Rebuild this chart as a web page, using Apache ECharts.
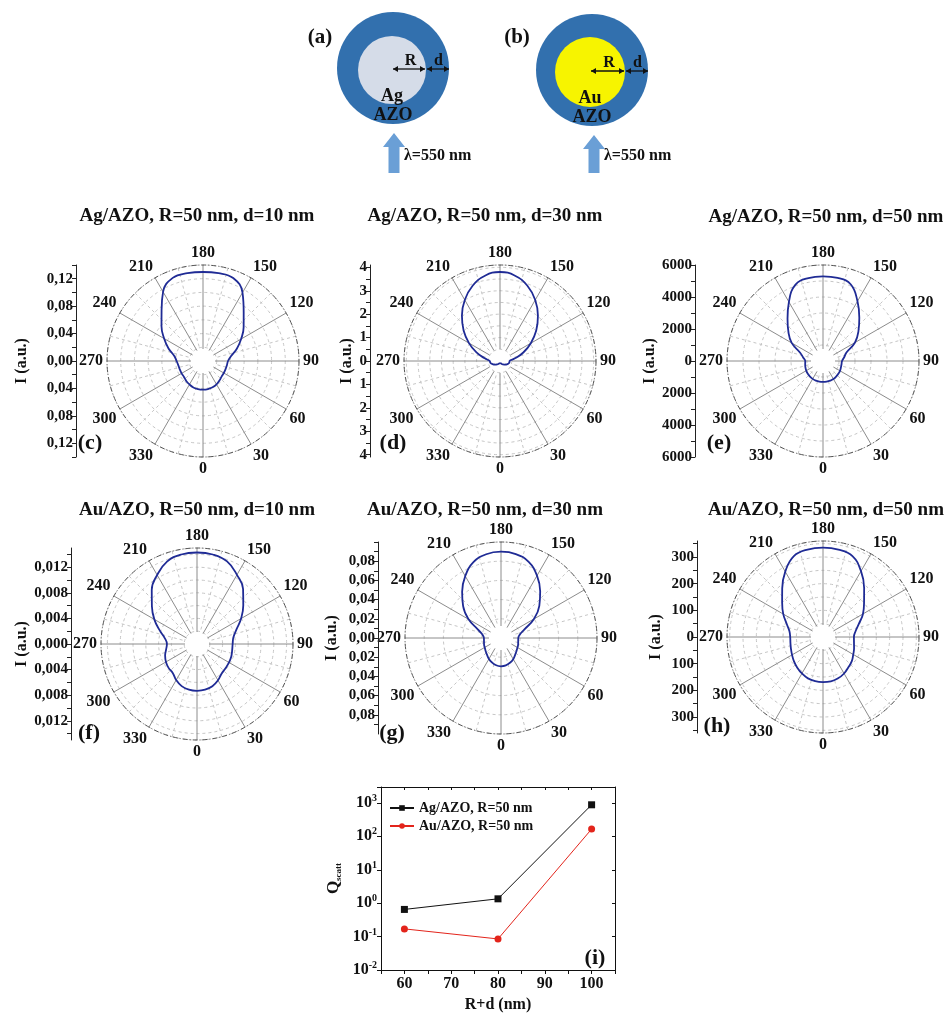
<!DOCTYPE html>
<html><head><meta charset="utf-8">
<script src="https://cdn.jsdelivr.net/npm/echarts@6/dist/echarts.min.js"></script>
<style>html,body{margin:0;padding:0;background:#fff}#chart{width:949px;height:1014px}</style>
</head><body><div id="chart"></div>
<script>
// ---------- DATA ----------
const angles = [0,10,20,30,40,50,60,70,80,90,100,110,120,130,140,150,160,170,180,190,200,210,220,230,240,250,260,270,280,290,300,310,320,330,340,350,360];
const agAzoD10 = [0.0418,0.0416,0.0408,0.0394,0.0372,0.0354,0.0350,0.0350,0.0354,0.0365,0.0416,0.0525,0.0642,0.0774,0.0923,0.1152,0.1287,0.1300,0.1298,
                  0.1300,0.1290,0.1165,0.0940,0.0790,0.0655,0.0535,0.0425,0.0385,0.0365,0.0360,0.0360,0.0362,0.0380,0.0395,0.0410,0.0416,0.0418];
const agAzoD30 = [0.085,0.085,0.107,0.15,0.19,0.235,0.30,0.36,0.405,0.41,0.65,1.06,1.52,2.02,2.52,3.01,3.42,3.70,3.80,
                  3.70,3.42,3.01,2.53,2.03,1.53,1.07,0.66,0.44,0.42,0.36,0.30,0.24,0.19,0.15,0.11,0.09,0.085];
const agAzoD50 = [1310,1310,1310,1305,1275,1250,1225,1190,1175,1190,1345,1560,2310,2890,3530,4310,5090,5270,5290,
                  5260,5060,4260,3450,2820,2260,1520,1260,1110,1130,1170,1210,1240,1265,1290,1305,1310,1310];
const auAzoD10 = [0.00733,0.00725,0.00702,0.00655,0.0060,0.00585,0.00577,0.0057,0.00558,0.00557,0.00577,0.00655,0.00796,0.00944,0.0112,0.01248,0.01373,0.0142,0.0143,
                  0.0142,0.0137,0.01245,0.0110,0.0092,0.0077,0.0062,0.0051,0.0047,0.0049,0.0053,0.0056,0.0058,0.0059,0.0065,0.0070,0.00725,0.00733];
const auAzoD30 = [0.0295,0.0289,0.0274,0.0255,0.0229,0.0211,0.0198,0.0190,0.0182,0.0180,0.0198,0.0260,0.0396,0.0521,0.0635,0.0750,0.0843,0.0888,0.0899,
                  0.0886,0.0840,0.0745,0.0630,0.0515,0.0390,0.0255,0.0195,0.0178,0.0180,0.0188,0.0196,0.0209,0.0227,0.0252,0.0272,0.0288,0.0295];
const auAzoD50 = [169,169,165,158,148,141,131,124,118,116,124,143,173,201,240,285,323,333,335,
                  333,322,283,238,200,172,145,128,123,124,128,134,142,150,158,165,168,169];

const ticksC = [-0.12,-0.08,-0.04,0,0.04,0.08,0.12];
const ticksD = [-4,-3,-2,-1,0,1,2,3,4];
const ticksE = [-6000,-4000,-2000,0,2000,4000,6000];
const ticksF = [-0.012,-0.008,-0.004,0,0.004,0.008,0.012];
const ticksG = [-0.08,-0.06,-0.04,-0.02,0,0.02,0.04,0.06,0.08];
const ticksH = [-300,-200,-100,0,100,200,300];

const shellSizes = [60, 80, 100];          // R+d (nm)
const qScattAg = [0.65, 1.35, 880];
const qScattAu = [0.17, 0.085, 165];
const xTickLabels = [60, 70, 80, 90, 100];
const seriesNames = ['Ag/AZO, R=50 nm', 'Au/AZO, R=50 nm'];

// ---------- LAYOUT ----------
const FONT = '"Liberation Serif","Times New Roman",serif';
const R = 96;
const panels = [
  {curve: agAzoD10, max: 0.14, ring: 0.02, dec: 2, ticks: ticksC, cx: 203, cy: 361, axX: 76, gap: 46, title: 'Ag/AZO, R=50 nm, d=10 nm', tx: 197, ty: 216, tag: '(c)', lx: 90, ly: 443},
  {curve: agAzoD30, max: 4.1, ring: 0.5, dec: 0, ticks: ticksD, cx: 500, cy: 361, axX: 370, gap: 15, title: 'Ag/AZO, R=50 nm, d=30 nm', tx: 485, ty: 216, tag: '(d)', lx: 393, ly: 443},
  {curve: agAzoD50, max: 6000, ring: 1000, dec: 0, ticks: ticksE, cx: 823, cy: 361, axX: 695, gap: 37, title: 'Ag/AZO, R=50 nm, d=50 nm', tx: 826, ty: 217, tag: '(e)', lx: 719, ly: 443},
  {curve: auAzoD10, max: 0.015, ring: 0.002, dec: 3, ticks: ticksF, cx: 197, cy: 644, axX: 71, gap: 41, title: 'Au/AZO, R=50 nm, d=10 nm', tx: 197, ty: 510, tag: '(f)', lx: 89, ly: 733},
  {curve: auAzoD30, max: 0.1, ring: 0.02, dec: 2, ticks: ticksG, cx: 501, cy: 638, axX: 378, gap: 38, title: 'Au/AZO, R=50 nm, d=30 nm', tx: 485, ty: 510, tag: '(g)', lx: 392, ly: 733},
  {curve: auAzoD50, max: 360, ring: 50, dec: 0, ticks: ticksH, cx: 823, cy: 637, axX: 697, gap: 33, title: 'Au/AZO, R=50 nm, d=50 nm', tx: 826, ty: 510, tag: '(h)', lx: 717, ly: 726}
];

function halfTicks(t, max) {
  const step = t[1] - t[0];
  const out = [];
  for (let k = 0; k < 200; k++) {
    const v = t[0] - step / 2 + k * step / 2;
    if (v > max + 1e-9) break;
    if (v >= -max - 1e-9) out.push(+v.toFixed(6));
  }
  return out;
}

const polar = [], angleAxis = [], radiusAxis = [], grid = [], xAxis = [], yAxis = [], series = [];
const graphic = [];
const txt = (x, y, text, size, align, extra) => Object.assign({
  type: 'text', x, y, silent: true,
  style: {text, font: 'bold ' + size + 'px ' + FONT, fill: '#111', textAlign: align || 'center', textVerticalAlign: 'middle'}
}, extra || {});

panels.forEach((p, i) => {
  polar.push({center: [p.cx, p.cy], radius: [12, R]});
  polar.push({center: [p.cx, p.cy], radius: [0, R]});
  angleAxis.push({
    polarIndex: 2 * i, type: 'value', min: 0, max: 360, interval: 30, startAngle: -90, clockwise: false,
    axisLine: {show: false}, axisTick: {show: false},
    axisLabel: {margin: 4, fontFamily: FONT, fontWeight: 'bold', fontSize: 16, color: '#111',
      formatter: v => (v === 360 ? '' : String(v))},
    splitLine: {show: true, lineStyle: {color: '#8c8c8c', width: 1}},
    minorTick: {show: false, splitNumber: 2},
    minorSplitLine: {show: true, lineStyle: {color: '#c6c6c6', type: [3, 3]}}
  });
  radiusAxis.push({polarIndex: 2 * i, type: 'value', min: 0, max: 1, show: false});
  angleAxis.push({
    polarIndex: 2 * i + 1, type: 'value', min: 0, max: 360, interval: 30, startAngle: -90, clockwise: false,
    axisLine: {show: true, lineStyle: {color: '#555', width: 1, type: [5, 2, 1, 2]}},
    axisTick: {show: false}, axisLabel: {show: false}, splitLine: {show: false}
  });
  radiusAxis.push({
    polarIndex: 2 * i + 1, type: 'value', min: 0, max: p.max, interval: p.ring,
    axisLine: {show: false}, axisTick: {show: false}, axisLabel: {show: false},
    splitLine: {show: true, lineStyle: {color: '#c6c6c6', type: [3, 3]}}
  });
  series.push({
    type: 'line', coordinateSystem: 'polar', polarIndex: 2 * i + 1, silent: true,
    data: angles.map((a, k) => [p.curve[k], a]),
    smooth: 0.45, showSymbol: false, z: 5,
    lineStyle: {color: '#1f2b95', width: 1.8}
  });
  // side radial-scale axis
  grid.push({left: p.axX, top: p.cy - R, width: 10, height: 2 * R});
  xAxis.push({gridIndex: i, type: 'value', show: false});
  yAxis.push({
    gridIndex: i, type: 'value', min: -p.max, max: p.max, position: 'left',
    axisLine: {show: true, onZero: false, lineStyle: {color: '#222', width: 1}},
    axisTick: {show: true, length: 4, customValues: halfTicks(p.ticks, p.max), lineStyle: {color: '#222'}},
    axisLabel: {customValues: p.ticks, margin: 3, fontFamily: FONT, fontWeight: 'bold', fontSize: 15, color: '#111',
      formatter: v => Math.abs(v).toFixed(p.dec).replace('.', ',')},
    splitLine: {show: false},
    name: 'I (a.u.)', nameLocation: 'middle', nameGap: p.gap, nameRotate: 90,
    nameTextStyle: {fontFamily: FONT, fontWeight: 'bold', fontSize: 16, color: '#111'}
  });
  graphic.push(txt(p.tx, p.ty, p.title, 19));
  graphic.push(txt(p.lx, p.ly, p.tag, 22));
});

// ---------- panel (i): log plot ----------
grid.push({left: 381, top: 787, width: 234, height: 188});
const axFont = {fontFamily: FONT, fontWeight: 'bold', color: '#111'};
xAxis.push({
  gridIndex: 6, type: 'value', min: 55, max: 105, interval: 5, position: 'bottom',
  axisLine: {show: true, onZero: false, lineStyle: {color: '#111'}},
  axisTick: {show: true, length: 4, lineStyle: {color: '#111'}},
  axisLabel: Object.assign({customValues: xTickLabels, fontSize: 16, margin: 6}, axFont),
  splitLine: {show: false},
  name: 'R+d (nm)', nameLocation: 'middle', nameGap: 27,
  nameTextStyle: Object.assign({fontSize: 16}, axFont)
});
xAxis.push({
  gridIndex: 6, type: 'value', min: 55, max: 105, interval: 5, position: 'top',
  axisLine: {show: true, onZero: false, lineStyle: {color: '#111'}},
  axisTick: {show: true, inside: true, length: 3, lineStyle: {color: '#111'}},
  axisLabel: {show: false}, splitLine: {show: false}
});
const supRich = {
  b: Object.assign({fontSize: 16}, axFont),
  s: Object.assign({fontSize: 10, verticalAlign: 'bottom', padding: [0, 0, 9, 0]}, axFont)
};
yAxis.push({
  gridIndex: 6, type: 'log', logBase: 10, min: 0.01, max: 3000, position: 'left',
  axisLine: {show: true, onZero: false, lineStyle: {color: '#111'}},
  axisTick: {show: true, length: 4, lineStyle: {color: '#111'}},
  axisLabel: {margin: 4, rich: supRich, formatter: v => {
    const l = Math.log10(v), e = Math.round(l);
    if (Math.abs(l - e) > 1e-6) return '';
    return '{b|10}{s|' + e + '}';
  }},
  splitLine: {show: false},
  name: '{q|Q}{s|scatt}', nameLocation: 'middle', nameGap: 38, nameRotate: 90,
  nameTextStyle: {rich: {
    q: Object.assign({fontSize: 17}, axFont),
    s: Object.assign({fontSize: 9, verticalAlign: 'top', padding: [10, 0, 0, 0]}, axFont)
  }}
});
yAxis.push({
  gridIndex: 6, type: 'log', logBase: 10, min: 0.01, max: 3000, position: 'right',
  axisLine: {show: true, onZero: false, lineStyle: {color: '#111'}},
  axisTick: {show: true, inside: true, length: 3, lineStyle: {color: '#111'}},
  axisLabel: {show: false}, splitLine: {show: false}
});
series.push({
  name: seriesNames[0], type: 'line', xAxisIndex: 6, yAxisIndex: 6,
  data: shellSizes.map((x, k) => [x, qScattAg[k]]),
  symbol: 'rect', symbolSize: 7, color: '#111',
  lineStyle: {color: '#111', width: 1}, itemStyle: {color: '#111'}
});
series.push({
  name: seriesNames[1], type: 'line', xAxisIndex: 6, yAxisIndex: 6,
  data: shellSizes.map((x, k) => [x, qScattAu[k]]),
  symbol: 'circle', symbolSize: 7, color: '#e3241b',
  lineStyle: {color: '#e3241b', width: 1}, itemStyle: {color: '#e3241b'}
});
graphic.push(txt(595, 958, '(i)', 22));

// ---------- schematics (a), (b) ----------
const shellBlue = '#3270ae', arrowBlue = '#6a9fd6';
function schematic(ox, oy, ix, iy, ir, coreFill, coreName, tag, tagX, tipX, tipY) {
  graphic.push({type: 'circle', silent: true, shape: {cx: ox, cy: oy, r: 56}, style: {fill: shellBlue}});
  graphic.push({type: 'circle', silent: true, shape: {cx: ix, cy: iy, r: ir}, style: {fill: coreFill}});
  const y = iy - 1, x0 = ix + 1, x1 = ix + ir, x2 = ox + 56;
  const seg = (a, b) => {
    graphic.push({type: 'line', silent: true, shape: {x1: a, y1: y, x2: b, y2: y}, style: {stroke: '#111', lineWidth: 1.3}});
    graphic.push({type: 'polygon', silent: true, shape: {points: [[a, y], [a + 5, y - 3], [a + 5, y + 3]]}, style: {fill: '#111'}});
    graphic.push({type: 'polygon', silent: true, shape: {points: [[b, y], [b - 5, y - 3], [b - 5, y + 3]]}, style: {fill: '#111'}});
  };
  seg(x0, x1 - 1);
  seg(x1 + 1, x2);
  graphic.push(txt((x0 + x1) / 2 + 1, y - 8, 'R', 16));
  graphic.push(txt((x1 + x2) / 2 + 1, y - 8, 'd', 16));
  graphic.push(txt(ix, iy + 26, coreName, 18));
  graphic.push(txt(ox, oy + 47, 'AZO', 18));
  graphic.push(txt(tagX, 38, tag, 21));
  graphic.push({type: 'polygon', silent: true, shape: {points: [
    [tipX, tipY], [tipX + 11, tipY + 14], [tipX + 5.5, tipY + 14], [tipX + 5.5, 173],
    [tipX - 5.5, 173], [tipX - 5.5, tipY + 14], [tipX - 11, tipY + 14]]}, style: {fill: arrowBlue}});
  graphic.push(txt(tipX + 10, 156, 'λ=550 nm', 16, 'left'));
}
schematic(393, 68, 392, 70, 34, '#d5dce8', 'Ag', '(a)', 320, 394, 133);
schematic(592, 70, 590, 72, 35, '#f7f400', 'Au', '(b)', 517, 594, 135);

const chart = echarts.init(document.getElementById('chart'), null, {renderer: 'canvas'});
chart.setOption({
  animation: false,
  backgroundColor: '#fff',
  textStyle: {fontFamily: FONT},
  polar, angleAxis, radiusAxis, grid, xAxis, yAxis, series, graphic,
  legend: {
    data: seriesNames, orient: 'vertical', left: 384, top: 796, itemGap: 4,
    itemWidth: 24, itemHeight: 7,
    textStyle: {fontFamily: FONT, fontWeight: 'bold', fontSize: 14, color: '#111'}
  }
});
</script>
</body></html>
